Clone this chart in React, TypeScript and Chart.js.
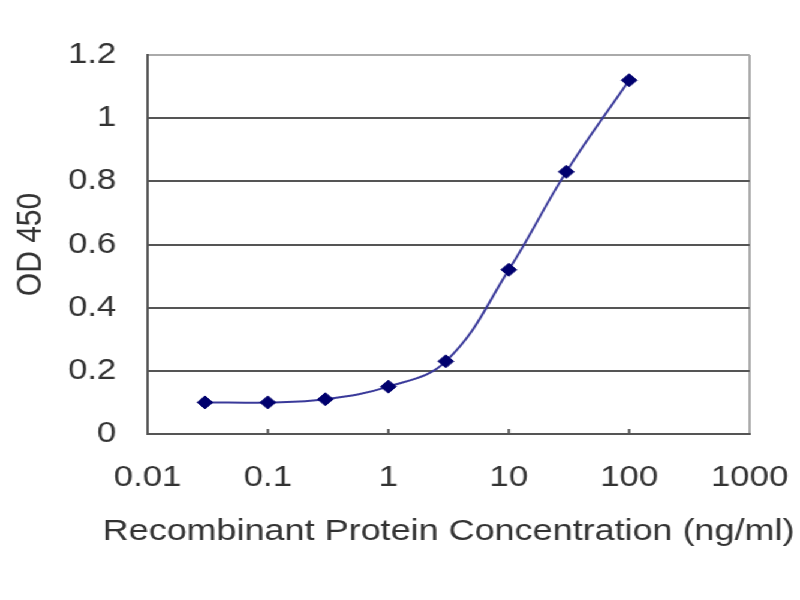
import { useEffect, useRef } from "react";
import { Chart, registerables } from "chart.js";
import type { Plugin } from "chart.js";

Chart.register(...registerables);

// concentration (ng/ml) and OD 450
const concentrations = [0.03, 0.1, 0.3, 1, 3, 10, 30, 100];
const odValues = [0.1, 0.1, 0.11, 0.15, 0.23, 0.52, 0.83, 1.12];

const xTickValues = [0.01, 0.1, 1, 10, 100, 1000];
const xTickLabels = ["0.01", "0.1", "1", "10", "100", "1000"];

const xTitle = "Recombinant Protein Concentration (ng/ml)";
const yTitle = "OD 450";

const fontFamily = '"Liberation Sans", Arial, sans-serif';
const textColor = "#333333";
const axisColor = "#555555";
const frameColor = "#aaaaaa";

// the reference is stretched sideways, so the chart is drawn narrower and scaled
const stretch = 1.2;
const layoutWidth = Math.round(800 / stretch);

// short tick marks pointing up from the x axis, and the x title centred
// under the plot (the scale title would squeeze it to the plot width)
const extras: Plugin<"line"> = {
  id: "extras",
  afterDatasetsDraw(chart) {
    const { ctx, chartArea, scales } = chart;
    const x = scales.x;
    ctx.save();
    ctx.strokeStyle = axisColor;
    ctx.lineWidth = 2;
    xTickValues.slice(1, -1).forEach((v) => {
      const px = x.getPixelForValue(v);
      ctx.beginPath();
      ctx.moveTo(px, chartArea.bottom);
      ctx.lineTo(px, chartArea.bottom - 5);
      ctx.stroke();
    });
    ctx.fillStyle = textColor;
    ctx.font = `30px ${fontFamily}`;
    ctx.textAlign = "center";
    ctx.textBaseline = "middle";
    ctx.fillText(xTitle, (chartArea.left + chartArea.right) / 2, chartArea.bottom + 98);
    ctx.restore();
  },
};

export default function App() {
  const canvasRef = useRef<HTMLCanvasElement | null>(null);

  useEffect(() => {
    const canvas = canvasRef.current;
    if (!canvas) {
      return;
    }

    const chart = new Chart(canvas, {
      type: "line",
      data: {
        datasets: [
          {
            data: concentrations.map((c, i) => ({ x: c, y: odValues[i] })),
            borderColor: "#3a3a9a",
            borderWidth: 2,
            tension: 0.4,
            pointStyle: "rectRot",
            pointRadius: 6.5,
            pointBackgroundColor: "#00006e",
            pointBorderColor: "#00006e",
            pointBorderWidth: 1,
          },
        ],
      },
      options: {
        animation: false,
        responsive: true,
        maintainAspectRatio: false,
        layout: {
          padding: { top: 55, right: 42, left: 0, bottom: 0 },
        },
        plugins: {
          legend: { display: false },
          tooltip: { enabled: false },
        },
        scales: {
          x: {
            type: "logarithmic",
            min: 0.01,
            max: 1000,
            afterBuildTicks: (scale) => {
              scale.ticks = xTickValues.map((value) => ({ value }));
            },
            afterFit: (scale) => {
              scale.height = 166;
            },
            border: { display: true, color: axisColor, width: 2 },
            grid: {
              drawTicks: true,
              tickLength: 24,
              tickColor: "rgba(0,0,0,0)",
              lineWidth: 2,
              color: (ctx) =>
                ctx.tick && ctx.tick.value === 1000 ? frameColor : "rgba(0,0,0,0)",
            },
            ticks: {
              padding: 3,
              color: textColor,
              font: { family: fontFamily, size: 29 },
              maxRotation: 0,
              autoSkip: false,
              callback: (value) => {
                const i = xTickValues.indexOf(Number(value));
                return i >= 0 ? xTickLabels[i] : "";
              },
            },
          },
          y: {
            min: 0,
            max: 1.2,
            afterFit: (scale) => {
              scale.width = 123;
            },
            border: { display: true, color: axisColor, width: 2 },
            grid: {
              drawTicks: false,
              lineWidth: 2,
              color: (ctx) => {
                const v = ctx.tick ? ctx.tick.value : 0;
                if (v >= 1.19) return frameColor;
                return axisColor;
              },
            },
            ticks: {
              stepSize: 0.2,
              padding: 26,
              color: textColor,
              font: { family: fontFamily, size: 29 },
              callback: (value) => String(Number(Number(value).toFixed(1))),
            },
            title: {
              display: true,
              text: yTitle,
              color: textColor,
              font: { family: fontFamily, size: 30 },
              padding: { top: 8, bottom: 0 },
            },
          },
        },
      },
      plugins: [extras],
    });

    return () => {
      chart.destroy();
    };
  }, []);

  return (
    <div
      style={{
        position: "absolute",
        left: 0,
        top: 0,
        width: layoutWidth,
        height: 600,
        transform: `scaleX(${800 / layoutWidth})`,
        transformOrigin: "0 0",
        background: "#ffffff",
      }}
    >
      <canvas ref={canvasRef} />
    </div>
  );
}
